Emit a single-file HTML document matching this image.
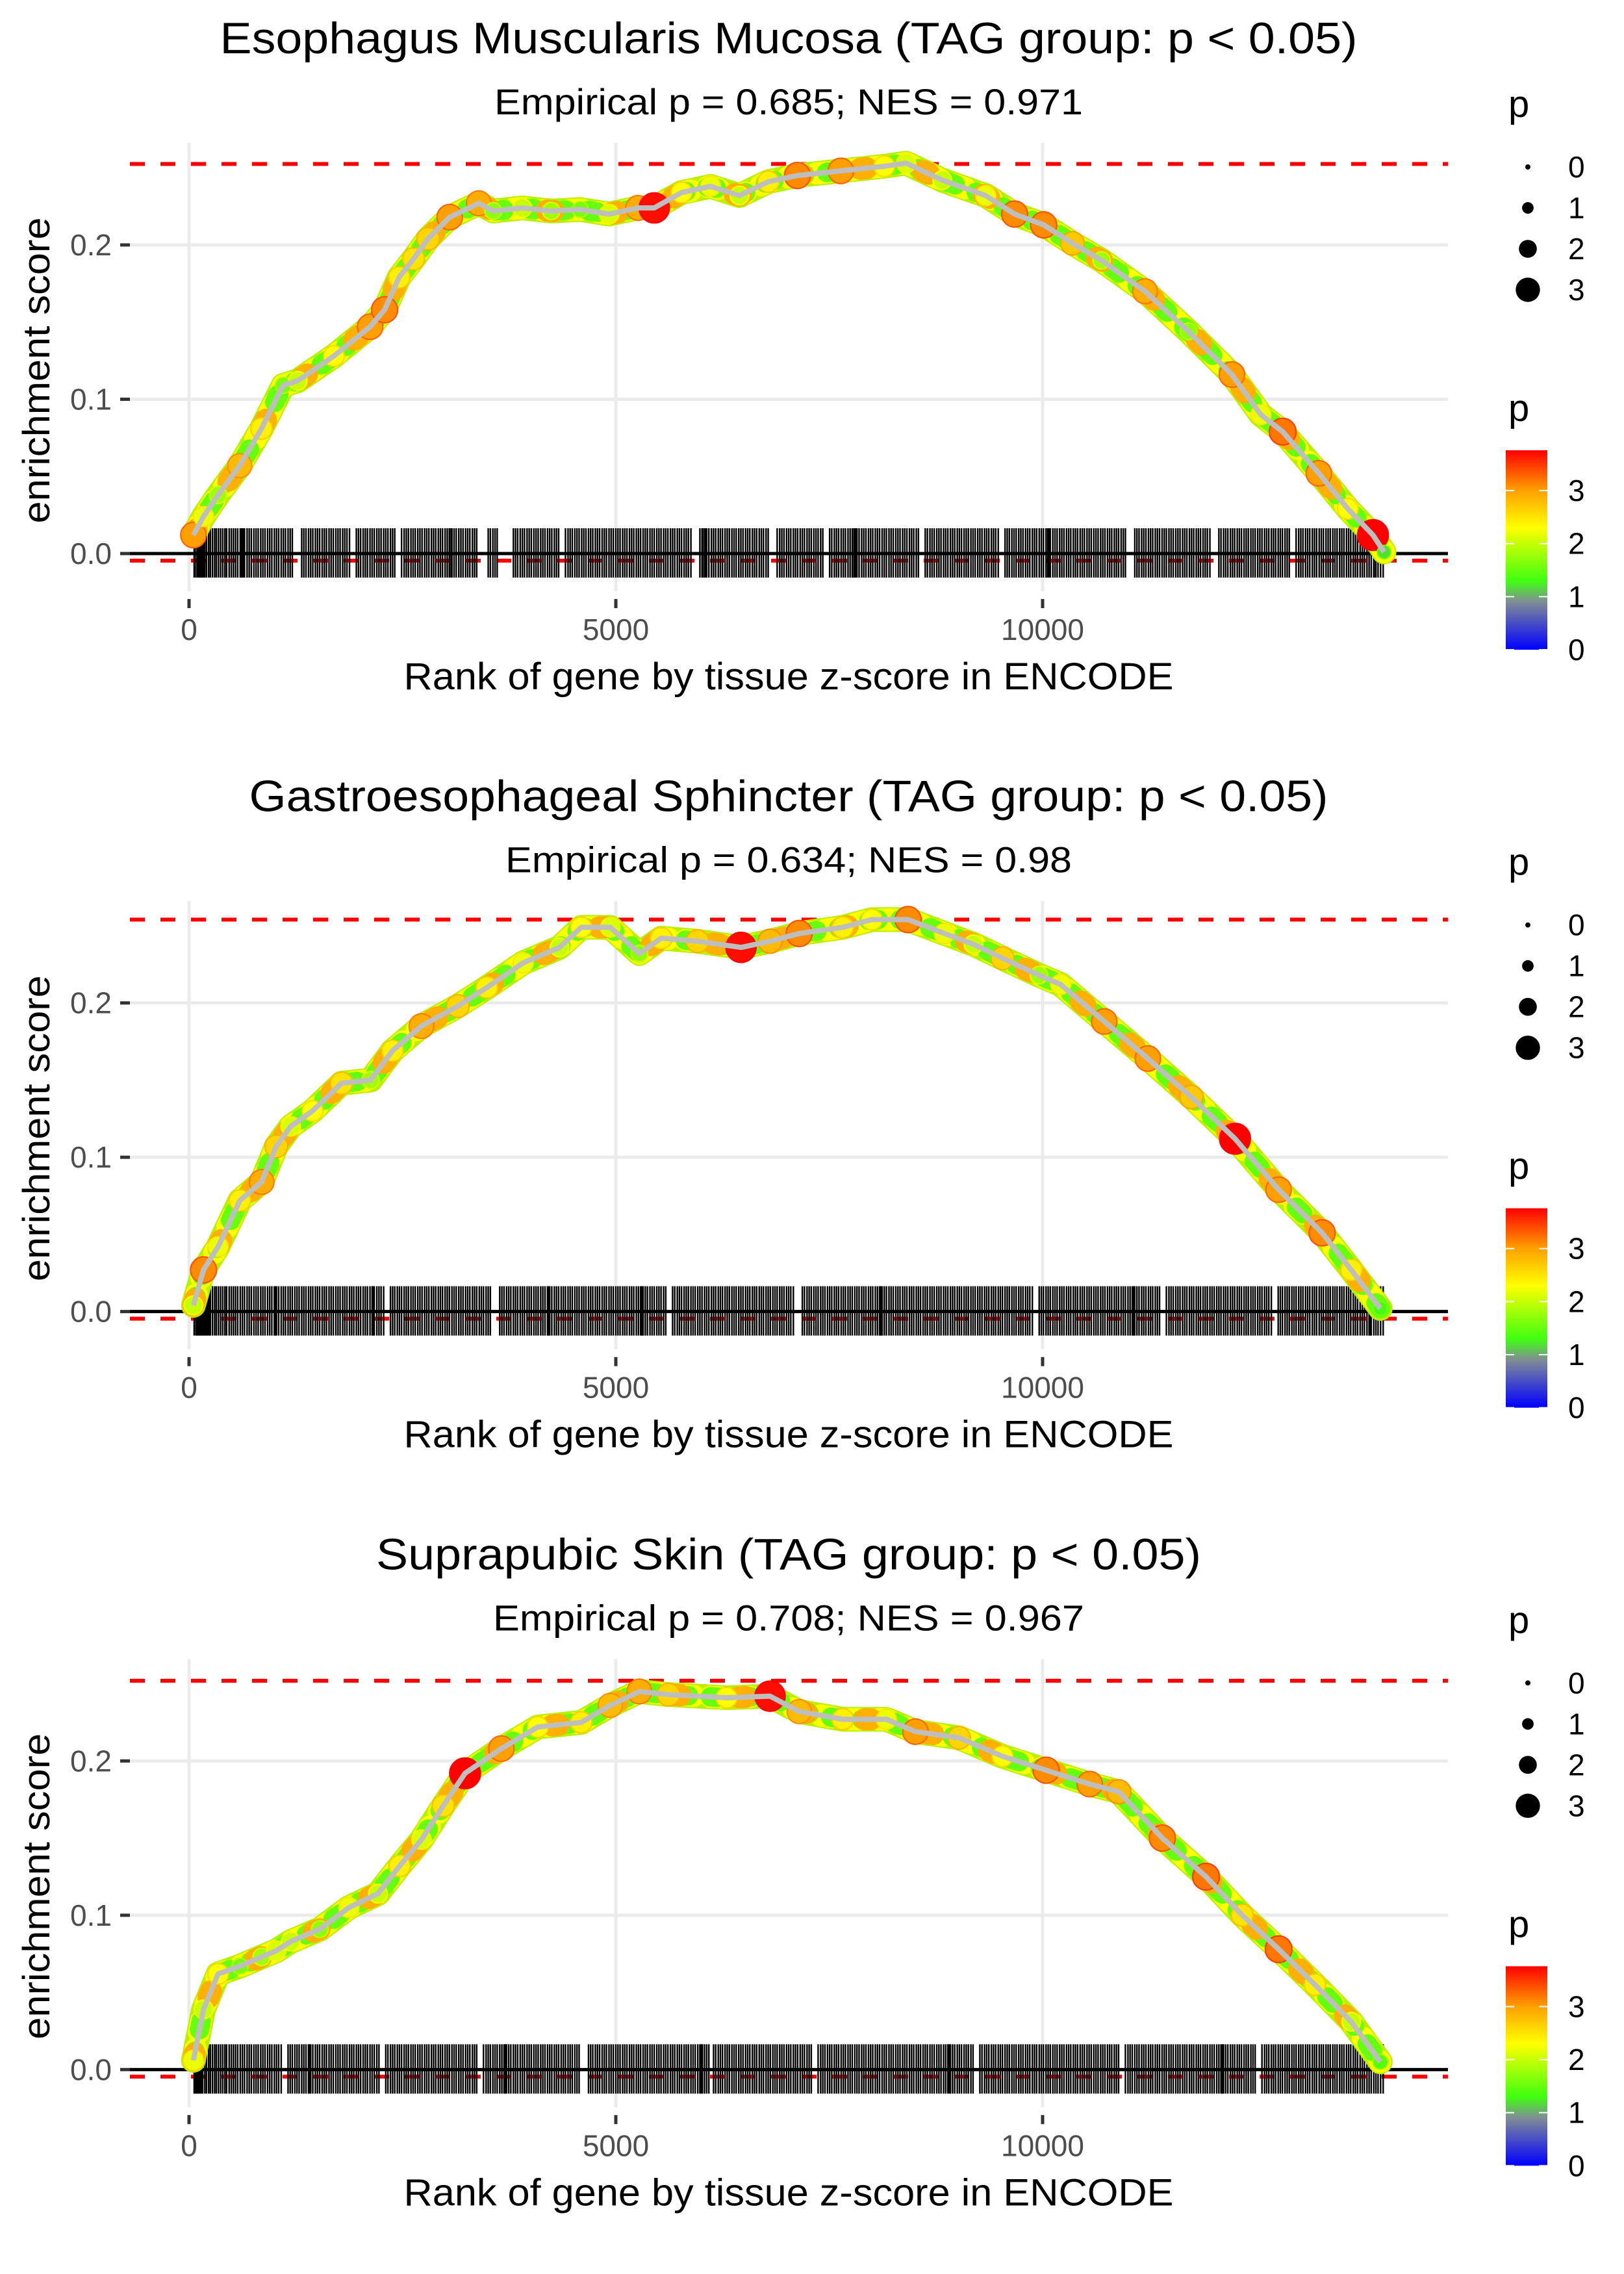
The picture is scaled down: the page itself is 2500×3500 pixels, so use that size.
<!DOCTYPE html>
<html><head><meta charset="utf-8"><style>
html,body{margin:0;padding:0;background:#fff;}
svg{display:block;font-family:"Liberation Sans",Arial,sans-serif;}
</style></head><body>
<svg id="chart" xmlns="http://www.w3.org/2000/svg" width="2500" height="3500" viewBox="0 0 2500 3500"></svg>
<script>
// ---------- Data ----------
const titles = ["Esophagus Muscularis Mucosa (TAG group: p < 0.05)","Gastroesophageal Sphincter (TAG group: p < 0.05)","Suprapubic Skin (TAG group: p < 0.05)"];
const subtitles = ["Empirical p = 0.685; NES = 0.971","Empirical p = 0.634; NES = 0.98","Empirical p = 0.708; NES = 0.967"];
const xTicks = [0,5000,10000];
const xTickLabels = ["0","5000","10000"];
const yTicks = [0,0.1,0.2];
const yTickLabels = ["0.0","0.1","0.2"];
const sizeLegendValues = [0,1,2,3];
const colorLegendValues = [0,1,2,3];
const maxES = [0.2525,0.254,0.252];
const minES = [-0.0046,-0.0046,-0.0046];

const ranks1 = [51,170,340,594,849,1103,1273,1697,2121,2291,2461,2630,2800,3054,3394,3564,3903,4242,4582,4921,5261,5450,5770,6109,6448,6788,7127,7636,8145,8400,8824,9333,9672,10012,10351,10690,11199,11708,12218,12557,12812,13236,13576,13870,14000];
const es1 = [.012,.024,.038,.057,.081,.109,.112,.128,.147,.158,.179,.191,.204,.218,.227,.222,.224,.222,.223,.220,.224,.224,.234,.238,.232,.241,.245,.248,.251,.253,.242,.232,.220,.213,.201,.190,.170,.144,.116,.090,.079,.052,.029,.012,.001];
const p1 = [3.0,2.2,1.8,2.8,2.4,1.6,2.0,2.3,3.0,3.1,2.4,2.5,2.6,3.0,2.9,1.7,2.0,1.8,1.6,2.1,2.9,3.7,2.3,2.2,2.0,2.4,3.1,3.0,2.3,2.1,2.0,2.2,3.1,3.1,2.7,1.8,2.9,1.7,3.0,2.2,3.2,3.0,2.3,3.8,1.2];

const ranks2 = [51,170,340,596,851,1021,1191,1447,1787,2127,2383,2723,3149,3489,3915,4340,4595,4935,5276,5531,5956,6467,6807,7148,7658,7999,8424,8850,9190,9530,9956,10211,10722,11233,11743,12254,12765,13275,13616,13956];
const es2 = [.004,.027,.042,.072,.084,.107,.12,.13,.148,.15,.169,.185,.198,.21,.226,.236,.249,.249,.232,.242,.24,.236,.24,.245,.249,.254,.254,.245,.238,.229,.218,.212,.188,.164,.139,.112,.079,.051,.027,.002];
const p2 = [2.0,3.1,2.2,2.4,2.9,2.6,2.1,2.3,2.5,1.8,2.4,2.9,2.6,2.4,2.2,2.0,2.3,2.1,1.7,2.4,2.6,3.7,2.8,3.1,2.4,2.3,3.1,2.2,2.0,2.6,1.8,2.2,3.0,3.0,2.7,3.8,3.0,3.1,2.4,1.3];

const ranks3 = [51,170,340,596,851,1021,1191,1532,1872,2213,2468,2723,2978,3234,3659,4085,4595,4935,5276,5616,6297,6807,7148,7658,8169,8510,9020,9530,10041,10552,10892,11403,11914,12339,12765,13190,13616,13956];
const es3 = [.006,.039,.062,.067,.073,.077,.083,.091,.105,.114,.132,.149,.171,.192,.208,.222,.225,.236,.245,.243,.241,.242,.232,.227,.227,.219,.215,.203,.194,.185,.180,.150,.125,.100,.078,.055,.031,.005];
const p3 = [2.2,2.0,2.3,1.6,1.8,2.1,2.0,1.7,2.2,2.0,2.4,2.1,2.5,3.8,3.0,2.3,2.4,2.8,2.9,2.6,2.3,3.7,2.8,2.4,2.2,3.0,2.6,2.3,3.1,3.0,2.8,3.1,3.2,2.5,3.2,2.4,2.0,1.4];

const rugBase = [60,80,100,120,140,160,185,205,230,250,275,300,320,345,370,395,420,440,470,495,520,545,570,600,625,650,680,705,730,760,785,810,840,865,890,920,945,970,1000,1025,1050,1080,1105,1130,1160,1185,1210,1240,1265,1290,1320,1345,1370,1400,1425,1450,1480,1505,1530,1560,1585,1610,1640,1665,1690,1720,1745,1770,1800,1825,1850,1880,1905,1930,1960,1985,2010,2040,2065,2090,2120,2145,2170,2200,2225,2250,2280,2305,2330,2360,2385,2410,2440,2465,2490,2520,2545,2570,2600,2625,2650,2680,2705,2730,2760,2785,2810,2840,2865,2890,2920,2945,2970,3000,3025,3050,3080,3105,3130,3160,3185,3210,3240,3265,3290,3320,3345,3370,3400,3425,3450,3480,3505,3530,3560,3585,3610,3640,3665,3690,3720,3745,3770,3800,3825,3850,3880,3905,3930,3960,3985,4010,4040,4065,4090,4120,4145,4170,4200,4225,4250,4280,4305,4330,4360,4385,4410,4440,4465,4490,4520,4545,4570,4600,4625,4650,4680,4705,4730,4760,4785,4810,4840,4865,4890,4920,4945,4970,5000,5025,5050,5080,5105,5130,5160,5185,5210,5240,5265,5290,5320,5345,5370,5400,5425,5450,5480,5505,5530,5560,5585,5610,5640,5665,5690,5720,5745,5770,5800,5825,5850,5880,5905,5930,5960,5985,6010,6040,6065,6090,6120,6145,6170,6200,6225,6250,6280,6305,6330,6360,6385,6410,6440,6465,6490,6520,6545,6570,6600,6625,6650,6680,6705,6730,6760,6785,6810,6840,6865,6890,6920,6945,6970,7000,7025,7050,7080,7105,7130,7160,7185,7210,7240,7265,7290,7320,7345,7370,7400,7425,7450,7480,7505,7530,7560,7585,7610,7640,7665,7690,7720,7745,7770,7800,7825,7850,7880,7905,7930,7960,7985,8010,8040,8065,8090,8120,8145,8170,8200,8225,8250,8280,8305,8330,8360,8385,8410,8440,8465,8490,8520,8545,8570,8600,8625,8650,8680,8705,8730,8760,8785,8810,8840,8865,8890,8920,8945,8970,9000,9025,9050,9080,9105,9130,9160,9185,9210,9240,9265,9290,9320,9345,9370,9400,9425,9450,9480,9505,9530,9560,9585,9610,9640,9665,9690,9720,9745,9770,9800,9825,9850,9880,9905,9930,9960,9985,10010,10040,10065,10090,10120,10145,10170,10200,10225,10250,10280,10305,10330,10360,10385,10410,10440,10465,10490,10520,10545,10570,10600,10625,10650,10680,10705,10730,10760,10785,10810,10840,10865,10890,10920,10945,10970,11000,11025,11050,11080,11105,11130,11160,11185,11210,11240,11265,11290,11320,11345,11370,11400,11425,11450,11480,11505,11530,11560,11585,11610,11640,11665,11690,11720,11745,11770,11800,11825,11850,11880,11905,11930,11960,11985,12010,12040,12065,12090,12120,12145,12170,12200,12225,12250,12280,12305,12330,12360,12385,12410,12440,12465,12490,12520,12545,12570,12600,12625,12650,12680,12705,12730,12760,12785,12810,12840,12865,12890,12920,12945,12970,13000,13025,13050,13080,13105,13130,13160,13185,13210,13240,13265,13290,13320,13345,13370,13400,13425,13450,13480,13505,13530,13560,13585,13610,13640,13665,13690,13720,13745,13770,13800,13825,13850,13880,13905,13930,13960,13990];
const rugGaps1 = [[1220,1300],[1900,1950],[2430,2480],[3380,3480],[3620,3780],[4350,4400],[5900,5960],[6800,6880],[7450,7500],[8560,8620],[9500,9550],[11000,11050],[11980,12060],[12900,12960]];
const rugGaps2 = [[2300,2340],[3560,3620],[5600,5640],[7100,7160],[9900,9950],[11400,11440],[12700,12740]];
const rugGaps3 = [[1100,1140],[2250,2300],[3400,3440],[4600,4660],[6100,6140],[7300,7360],[9200,9240],[10900,10950],[12500,12560]];
const rugExtra1 = [110,130,150,175,610,640,3050,3070,6020,6050,7790,7815,10060,10080,13880,13900];
const rugExtra2 = [90,110,130,150,170,195,215,240,1000,1015,2150,2165,4200,4215,5300,5315,8100,8115,11060,11075,13830,13845];
const rugExtra3 = [70,95,115,135,155,1400,1415,3700,3715,6000,6015,8900,8915,12100,12115];

const panelRanks = [ranks1,ranks2,ranks3];
const panelES = [es1,es2,es3];
const panelP = [p1,p2,p3];
const panelGaps = [rugGaps1,rugGaps2,rugGaps3];
const panelExtra = [rugExtra1,rugExtra2,rugExtra3];

const NS = "http://www.w3.org/2000/svg";
const svg = document.getElementById('chart');
const PANEL_H = 1166.67;
const PL = 200, PR = 2229, PT = 220, PB = 910;
function xScale(r){ return 291 + r*0.1314; }
function yScale(v, off){ return off + 852 - v*2375; }
function pRadius(p){ return 4 + 5.2*p; }
const cStops = [[0,[0,0,255]],[0.9,[128,140,150]],[1.3,[64,255,16]],[2.3,[255,255,0]],[3.0,[255,160,0]],[3.76,[255,0,0]]];
function pColor(p){
  if(p<=cStops[0][0]) return 'rgb(0,0,255)';
  for(let i=1;i<cStops.length;i++){
    if(p<=cStops[i][0]){
      const a=cStops[i-1], b=cStops[i], t=(p-a[0])/(b[0]-a[0]);
      const c=a[1].map((v,k)=>Math.round(v+(b[1][k]-v)*t));
      return 'rgb('+c.join(',')+')';
    }
  }
  return 'rgb(255,0,0)';
}
function mk(tag, attrs, parent){
  const e=document.createElementNS(NS,tag);
  for(const k in attrs) e.setAttribute(k,attrs[k]);
  (parent||svg).appendChild(e);
  return e;
}
function txt(parent, s, attrs){ const t=mk('text',attrs,parent); t.textContent=s; return t; }

const titleLens=[1751,1661,1270], subLens=[906,872,910];

for(let k=0;k<3;k++){
  const off = k*PANEL_H;
  const g = mk('g',{});
  
  

  const tt = txt(g, titles[k], {x:1214, y:off+82, 'text-anchor':'middle','font-size':68, fill:'#000', textLength:titleLens[k], lengthAdjust:'spacingAndGlyphs'});
  
  
  const st = txt(g, subtitles[k], {x:1214, y:off+176, 'text-anchor':'middle','font-size':56, fill:'#000', textLength:subLens[k], lengthAdjust:'spacingAndGlyphs'});
  
  

  yTicks.forEach((v,i)=>{
    const y=yScale(v,off);
    const l=mk('line',{x1:PL,x2:PR,y1:y,y2:y,stroke:'#ebebeb','stroke-width':5},g);
    
    
    const tm=mk('line',{x1:185,x2:200,y1:y,y2:y,stroke:'#333','stroke-width':5},g);
    
    
    const tl=txt(g, yTickLabels[i], {x:172,y:y+16,'text-anchor':'end','font-size':46,fill:'#4d4d4d'});
    
    
  });
  xTicks.forEach((v,i)=>{
    const x=xScale(v);
    const l=mk('line',{x1:x,x2:x,y1:off+PT,y2:off+PB,stroke:'#ebebeb','stroke-width':5},g);
    
    
    const tm=mk('line',{x1:x,x2:x,y1:off+922,y2:off+936,stroke:'#333','stroke-width':5},g);
    
    
    const tl=txt(g, xTickLabels[i], {x:x,y:off+985,'text-anchor':'middle','font-size':46,fill:'#4d4d4d'});
    
    
  });

  [maxES[k],minES[k]].forEach((v,i)=>{
    const y=yScale(v,off);
    const l=mk('line',{x1:PL,x2:PR,y1:y,y2:y,stroke:'#ff0000','stroke-width':6,'stroke-dasharray':'23 24'},g);
    
    
  });

  const rg=mk('g',{},g);
  
  
  const gaps=panelGaps[k];
  const rugRanks=rugBase.filter(r=>!gaps.some(gp=>r>=gp[0]&&r<=gp[1])).concat(panelExtra[k]);
  rugRanks.forEach(r=>{
    const x=xScale(r);
    const l=mk('line',{x1:x,x2:x,y1:off+813,y2:off+889,stroke:'#000','stroke-width':2.4},rg);
    
    
  });

  const z=mk('line',{x1:PL,x2:PR,y1:yScale(0,off),y2:yScale(0,off),stroke:'#000','stroke-width':5},g);
  
  

  const R=panelRanks[k], E=panelES[k], P=panelP[k];
  const pts=R.map((r,i)=>xScale(r).toFixed(1)+','+yScale(E[i],off).toFixed(1)).join(' ');
  const bandStyles=[['#b8f000',38,''],['#ffff00',34,'18 26'],['#66ff10',30,'14 34'],['#ffb000',34,'10 90']];
  bandStyles.forEach(s=>{
    const b=mk('polyline',{points:pts,fill:'none',stroke:s[0],'stroke-width':s[1],'stroke-linejoin':'round','stroke-linecap':'round'},g);
    if(s[2]) b.setAttribute('stroke-dasharray',s[2]);
    
    
  });
  R.forEach((r,i)=>{
    const c=mk('circle',{cx:xScale(r),cy:yScale(E[i],off),r:pRadius(P[i]),fill:pColor(P[i]),stroke:pColor(Math.min(3.76,P[i]+0.3)),'stroke-width':2},g);
    
    
  });
  const line=mk('polyline',{points:pts,fill:'none',stroke:'#bebebe','stroke-width':8,'stroke-linejoin':'round'},g);
  
  

  const xt=txt(g,'Rank of gene by tissue z-score in ENCODE',{x:1214,y:off+1061,'text-anchor':'middle','font-size':58,fill:'#000',textLength:1185,lengthAdjust:'spacingAndGlyphs'});
  
  
  const yt=txt(g,'enrichment score',{x:0,y:0,'text-anchor':'middle','font-size':58,fill:'#000',transform:'translate(76,'+(off+570)+') rotate(-90)',textLength:471,lengthAdjust:'spacingAndGlyphs'});
  
  

  const sl=mk('g',{},g);
  
  
  const slt=txt(sl,'p',{x:2322,y:off+180,'font-size':58,fill:'#000'});
  
  
  sizeLegendValues.forEach((v,i)=>{
    const y=off+257+i*63;
    const c=mk('circle',{cx:2352,cy:y,r:4+4.9*v,fill:'#000'},sl);
    
    
    const t=txt(sl,String(v),{x:2414,y:y+16,'font-size':46,fill:'#000'});
    
    
  });

  const cl=mk('g',{},g);
  
  
  const clt=txt(cl,'p',{x:2322,y:off+648,'font-size':58,fill:'#000'});
  
  
  const gid='cg'+k;
  const defs=mk('defs',{},cl);
  const lg=mk('linearGradient',{id:gid,x1:0,y1:1,x2:0,y2:0},defs);
  cStops.forEach(s=>{
    mk('stop',{offset:(s[0]/3.76),'stop-color':'rgb('+s[1].join(',')+')'},lg);
  });
  const barTop=off+693, barBot=off+1000;
  const bar=mk('rect',{x:2318,y:barTop,width:64,height:barBot-barTop,fill:'url(#'+gid+')'},cl);
  
  
  colorLegendValues.forEach(v=>{
    const y=barBot - v/3.76*(barBot-barTop);
    mk('line',{x1:2318,x2:2331,y1:y,y2:y,stroke:'#fff','stroke-width':2},cl);
    mk('line',{x1:2369,x2:2382,y1:y,y2:y,stroke:'#fff','stroke-width':2},cl);
    const t=txt(cl,String(v),{x:2414,y:y+16,'font-size':46,fill:'#000'});
    
    
  });
}
</script>
</body></html>
